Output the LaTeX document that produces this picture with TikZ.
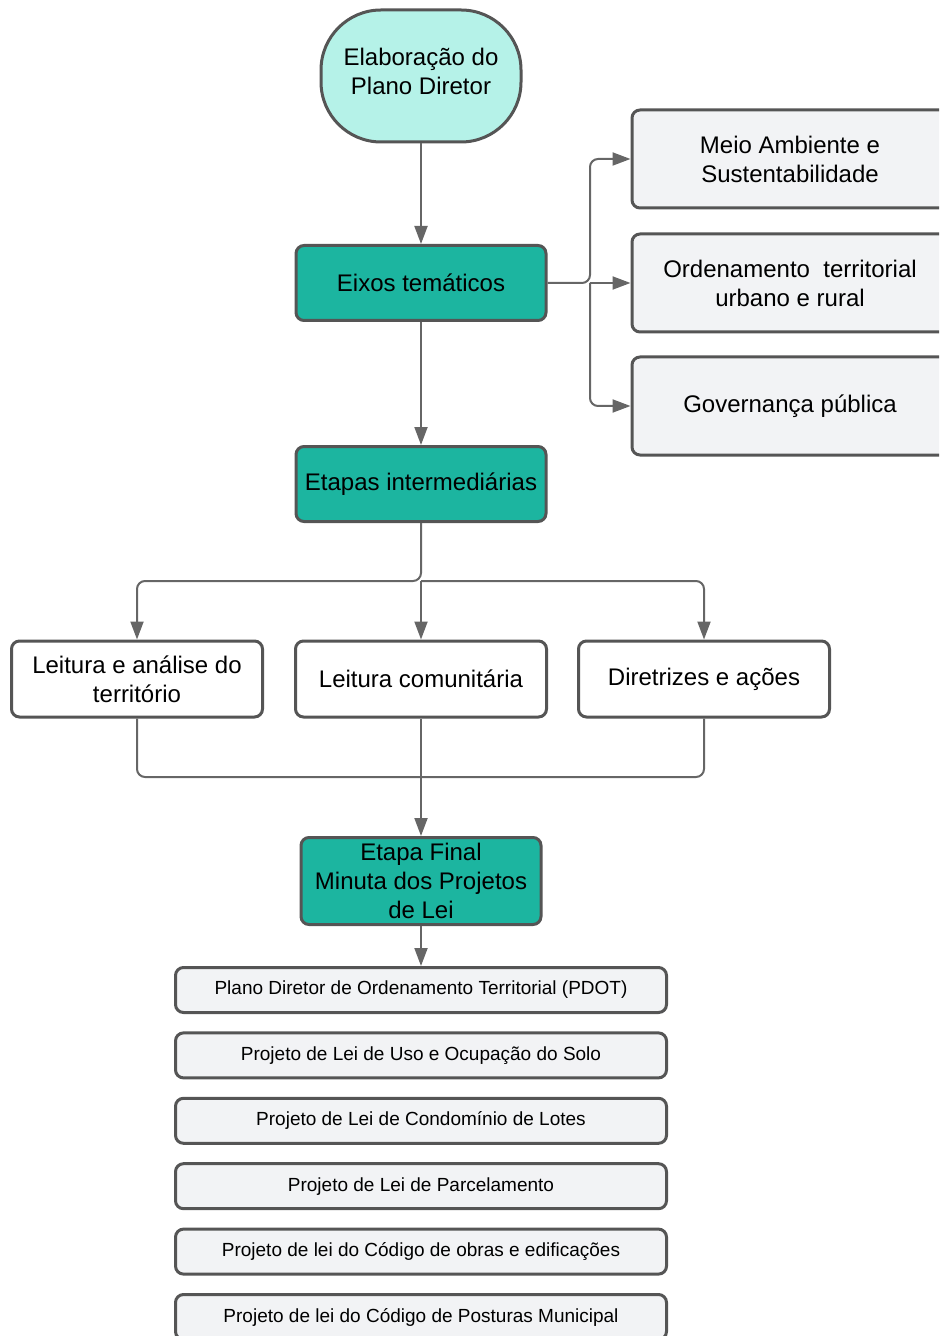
\documentclass[tikz,border=0pt]{standalone}
\usepackage{fontspec}
\setmainfont{Liberation Sans}
\usetikzlibrary{arrows.meta,positioning}

\definecolor{tealbox}{HTML}{1CB5A0}
\definecolor{mintbox}{HTML}{B5F2E8}
\definecolor{greybox}{HTML}{F2F3F5}
\definecolor{edgegrey}{HTML}{555555}
\definecolor{linegrey}{HTML}{666666}

\begin{document}
\begin{tikzpicture}[
  x=0.5pt, y=-0.5pt,
  every node/.style={font=\fontsize{12}{14.5}\selectfont, align=center, inner sep=2pt},
  box/.style={draw=edgegrey, line width=1.5pt, rounded corners=4pt},
  tealstep/.style={box, fill=tealbox, minimum width=125pt, minimum height=37.5pt},
  topicbox/.style={box, fill=greybox, minimum width=158pt, minimum height=49pt},
  readbox/.style={box, fill=white, minimum width=125.5pt, minimum height=38pt},
  lawbox/.style={box, fill=greybox, minimum width=245.5pt, minimum height=22.5pt,
    font=\fontsize{9.5}{11}\selectfont},
  conn/.style={draw=linegrey, line width=1pt, rounded corners=4pt},
  arr/.style={conn, -{Triangle[length=9pt,width=6.5pt]}}
]

\useasboundingbox (0,0) rectangle (939,1336);
\clip (0,0) rectangle (939,1336);

% inicio
\node [
  box,
  fill=mintbox,
  rounded corners=30pt,
  minimum width=100pt,
  minimum height=66pt
] (plano) at (421,76) {Elaboração do\\Plano Diretor\\[-9.5pt]};

% eixos
\node [tealstep] (eixos) at (421,283) {Eixos temáticos};
\node [topicbox] (meio) at (790,159) {Meio Ambiente e\\Sustentabilidade};
\node [topicbox] (orden) at (790,283) {Ordenamento\ \ territorial\\urbano e rural};
\node [topicbox] (gov) at (790,406) {Governança pública};

% etapas
\node [tealstep] (etapas) at (421,484) {Etapas intermediárias};
\node [readbox] (leit) at (137,679) {Leitura e análise do\\território};
\node [readbox] (comun) at (421,679) {Leitura comunitária};
\node [readbox] (diret) at (704,679) {Diretrizes e ações};

% final
\node [
  tealstep,
  minimum width=120pt,
  minimum height=43.5pt
] (final) at (421,881) {Etapa Final\\Minuta dos Projetos\\de Lei};

\node [lawbox] (lei1) at (421,990) {Plano Diretor de Ordenamento Territorial (PDOT)};
\node [lawbox, below=8.7pt of lei1] (lei2) {Projeto de Lei de Uso e Ocupação do Solo};
\node [lawbox, below=8.7pt of lei2] (lei3) {Projeto de Lei de Condomínio de Lotes};
\node [lawbox, below=8.7pt of lei3] (lei4) {Projeto de Lei de Parcelamento};
\node [lawbox, below=8.7pt of lei4] (lei5) {Projeto de lei do Código de obras e edificações};
\node [lawbox, below=8.7pt of lei5] (lei6) {Projeto de lei do Código de Posturas Municipal};

% ligacoes
\coordinate (ramo) at (590,283);
\coordinate (div) at (421,581);
\coordinate (junta) at (421,777);

\draw [arr] (plano.south) -- (eixos.north);
\draw [arr] (eixos.south) -- (etapas.north);
\draw [arr] (eixos.east) -- (ramo) |- (meio.west);
\draw [arr] (ramo) -- (orden.west);
\draw [arr] (ramo) |- (gov.west);

\draw [arr] (etapas.south) -- (div) -| (leit.north);
\draw [arr] (div) -- (comun.north);
\draw [arr] (div) -| (diret.north);

\draw [conn] (leit.south) |- (junta);
\draw [conn] (diret.south) |- (junta);
\draw [arr] (comun.south) -- (final.north);
\draw [arr] (final.south) -- (lei1.north);

\end{tikzpicture}
\end{document}
